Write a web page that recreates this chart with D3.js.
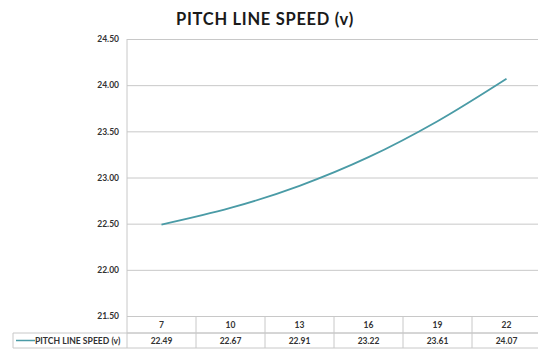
<!DOCTYPE html>
<html>
<head>
<meta charset="utf-8">
<script src="https://cdn.jsdelivr.net/npm/d3@7"></script>
<style>
  html, body { margin: 0; padding: 0; background: #fff; }
  svg { display: block; }
  text { font-family: Lato, "Open Sans", sans-serif; }
</style>
</head>
<body>
<svg id="chart" width="538" height="351"></svg>
<script>
const categories = ["7", "10", "13", "16", "19", "22"];
const speed = [22.49, 22.67, 22.91, 23.22, 23.61, 24.07];
const yTicks = [21.5, 22.0, 22.5, 23.0, 23.5, 24.0, 24.5];
const seriesName = "PITCH LINE SPEED (v)";
const title = "PITCH LINE SPEED (v)";

const W = 538, H = 351;
const plot = { left: 127, right: 541, top: 39, bottom: 316 };
const rowH = [17, 15];
const legendLeft = 13;
const lineColor = "#4a9ba6";
const gridColor = "#c8c8c8";

const svg = d3.select("#chart");

const x = d3.scaleBand().domain(categories).range([plot.left, plot.right]);
const y = d3.scaleLinear().domain([21.5, 24.5]).range([plot.bottom, plot.top]);

// title
svg.append("text")
  .attr("x", 265).attr("y", 25)
  .attr("text-anchor", "middle")
  .attr("font-size", 16.5).attr("font-weight", 700)
  .attr("fill", "#1a1a1a")
  .attr("letter-spacing", 0.7)
  .text(title);

// horizontal gridlines + y tick labels
const yAxis = d3.axisLeft(y).tickValues(yTicks).tickFormat(d3.format(".2f"))
  .tickSize(-(plot.right - plot.left)).tickPadding(8);
const gy = svg.append("g").attr("transform", `translate(${plot.left},0)`).call(yAxis);
gy.select(".domain").remove();
gy.selectAll(".tick line").attr("stroke", gridColor).attr("stroke-width", 1);
gy.selectAll(".tick text")
  .attr("font-size", 8.5).attr("font-weight", 700)
  .attr("fill", "#333")
  .attr("font-family", "Lato, sans-serif");

// left axis line running down through the data table
svg.append("line")
  .attr("x1", plot.left).attr("x2", plot.left)
  .attr("y1", plot.top).attr("y2", plot.bottom + rowH[0] + rowH[1])
  .attr("stroke", gridColor);

// data table rows
const row1 = plot.bottom + rowH[0];
const row2 = row1 + rowH[1];
[[plot.left, row1], [legendLeft, row1], [legendLeft, row2]].forEach(([x0, yy]) => {
  svg.append("line").attr("x1", x0).attr("x2", W).attr("y1", yy).attr("y2", yy)
    .attr("stroke", gridColor);
});
svg.append("line").attr("x1", legendLeft).attr("x2", legendLeft)
  .attr("y1", row1).attr("y2", row2).attr("stroke", gridColor);

// column separators
svg.selectAll("line.col").data(categories.slice(1)).enter().append("line")
  .attr("class", "col")
  .attr("x1", d => x(d)).attr("x2", d => x(d))
  .attr("y1", plot.bottom).attr("y2", row2)
  .attr("stroke", gridColor);

// category labels
svg.selectAll("text.cat").data(categories).enter().append("text")
  .attr("class", "cat")
  .attr("x", d => x(d) + x.bandwidth() / 2)
  .attr("y", plot.bottom + 12)
  .attr("text-anchor", "middle")
  .attr("font-size", 8.5).attr("font-weight", 700).attr("fill", "#333")
  .text(d => d);

// value labels
svg.selectAll("text.val").data(speed).enter().append("text")
  .attr("class", "val")
  .attr("x", (d, i) => x(categories[i]) + x.bandwidth() / 2)
  .attr("y", row1 + 11)
  .attr("text-anchor", "middle")
  .attr("font-size", 8.5).attr("font-weight", 700).attr("fill", "#333")
  .text(d => d.toFixed(2));

// legend key inside the table
svg.append("line")
  .attr("x1", legendLeft + 3).attr("x2", legendLeft + 22)
  .attr("y1", row1 + 7.5).attr("y2", row1 + 7.5)
  .attr("stroke", lineColor).attr("stroke-width", 1.5);
svg.append("text")
  .attr("x", legendLeft + 22).attr("y", row1 + 11)
  .attr("font-size", 8.6).attr("font-weight", 700).attr("fill", "#333")
  .text(seriesName);

// series line
const line = d3.line()
  .x((d, i) => x(categories[i]) + x.bandwidth() / 2)
  .y(d => y(d))
  .curve(d3.curveCatmullRom.alpha(0));
svg.append("path")
  .datum(speed)
  .attr("d", line)
  .attr("fill", "none")
  .attr("stroke", lineColor)
  .attr("stroke-width", 1.8);
</script>
</body>
</html>
